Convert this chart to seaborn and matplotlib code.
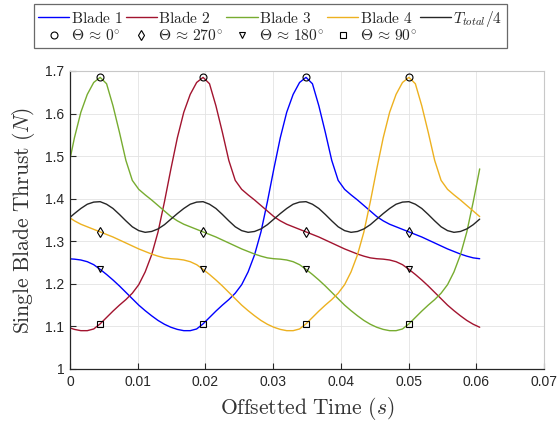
import numpy as np
import matplotlib
matplotlib.use("Agg")
import matplotlib.pyplot as plt
import seaborn as sns
from matplotlib.lines import Line2D

# sample times (s), uniform grid of the simulation output
time = np.linspace(-0.0003, 0.0605, 65)

blade_1 = [1.259, 1.258, 1.256, 1.252, 1.245, 1.234, 1.222, 1.209, 1.195, 1.180,
           1.165, 1.150, 1.137, 1.125, 1.114, 1.105, 1.098, 1.093, 1.090, 1.090,
           1.094, 1.106, 1.121, 1.136, 1.150, 1.163, 1.178, 1.198, 1.228, 1.268,
           1.322, 1.393, 1.470, 1.543, 1.603, 1.645, 1.673, 1.685, 1.670, 1.618,
           1.556, 1.490, 1.443, 1.422, 1.409, 1.397, 1.384, 1.371, 1.358, 1.348,
           1.340, 1.334, 1.328, 1.322, 1.316, 1.310, 1.303, 1.296, 1.289, 1.282,
           1.276, 1.270, 1.265, 1.261, 1.259]
blade_2 = [1.098, 1.093, 1.090, 1.090, 1.094, 1.106, 1.121, 1.136, 1.150, 1.163,
           1.178, 1.198, 1.228, 1.268, 1.322, 1.393, 1.470, 1.543, 1.603, 1.645,
           1.673, 1.685, 1.670, 1.618, 1.556, 1.490, 1.443, 1.422, 1.409, 1.397,
           1.384, 1.371, 1.358, 1.348, 1.340, 1.334, 1.328, 1.322, 1.316, 1.310,
           1.303, 1.296, 1.289, 1.282, 1.276, 1.270, 1.265, 1.261, 1.259, 1.258,
           1.256, 1.252, 1.245, 1.234, 1.222, 1.209, 1.195, 1.180, 1.165, 1.150,
           1.137, 1.125, 1.114, 1.105, 1.098]
blade_3 = [1.470, 1.543, 1.603, 1.645, 1.673, 1.685, 1.670, 1.618, 1.556, 1.490,
           1.443, 1.422, 1.409, 1.397, 1.384, 1.371, 1.358, 1.348, 1.340, 1.334,
           1.328, 1.322, 1.316, 1.310, 1.303, 1.296, 1.289, 1.282, 1.276, 1.270,
           1.265, 1.261, 1.259, 1.258, 1.256, 1.252, 1.245, 1.234, 1.222, 1.209,
           1.195, 1.180, 1.165, 1.150, 1.137, 1.125, 1.114, 1.105, 1.098, 1.093,
           1.090, 1.090, 1.094, 1.106, 1.121, 1.136, 1.150, 1.163, 1.178, 1.198,
           1.228, 1.268, 1.322, 1.393, 1.470]
blade_4 = [1.358, 1.348, 1.340, 1.334, 1.328, 1.322, 1.316, 1.310, 1.303, 1.296,
           1.289, 1.282, 1.276, 1.270, 1.265, 1.261, 1.259, 1.258, 1.256, 1.252,
           1.245, 1.234, 1.222, 1.209, 1.195, 1.180, 1.165, 1.150, 1.137, 1.125,
           1.114, 1.105, 1.098, 1.093, 1.090, 1.090, 1.094, 1.106, 1.121, 1.136,
           1.150, 1.163, 1.178, 1.198, 1.228, 1.268, 1.322, 1.393, 1.470, 1.543,
           1.603, 1.645, 1.673, 1.685, 1.670, 1.618, 1.556, 1.490, 1.443, 1.422,
           1.409, 1.397, 1.384, 1.371, 1.358]
total_quarter = [1.352, 1.365, 1.377, 1.387, 1.392, 1.393, 1.387, 1.377, 1.363, 1.348,
                 1.334, 1.325, 1.321, 1.323, 1.329, 1.339, 1.352, 1.365, 1.377, 1.387,
                 1.392, 1.393, 1.387, 1.377, 1.363, 1.348, 1.334, 1.325, 1.321, 1.323,
                 1.329, 1.339, 1.352, 1.365, 1.377, 1.387, 1.392, 1.393, 1.387, 1.377,
                 1.363, 1.348, 1.334, 1.325, 1.321, 1.323, 1.329, 1.339, 1.352, 1.365,
                 1.377, 1.387, 1.392, 1.393, 1.387, 1.377, 1.363, 1.348, 1.334, 1.325,
                 1.321, 1.323, 1.329, 1.339, 1.352]

blade_names = ["Blade 1", "Blade 2", "Blade 3", "Blade 4"]
blade_colors = ["#0000ff", "#a2142f", "#77ac30", "#edb120"]
# sample index where each blade passes Theta ~ 0
blade_peak_idx = [37, 21, 5, 53]

# marker per azimuth, offset in samples from the Theta ~ 0 point
azimuth_labels = [r"$\Theta\,\approx\,0^{\circ}$", r"$\Theta\,\approx\,270^{\circ}$",
                  r"$\Theta\,\approx\,180^{\circ}$", r"$\Theta\,\approx\,90^{\circ}$"]
azimuth_markers = ["o", "d", "v", "s"]
azimuth_offsets = [0, 16, 32, 48]

sns.set_style("ticks")
plt.rcParams["font.family"] = ["Liberation Sans", "DejaVu Sans"]
plt.rcParams["mathtext.fontset"] = "cm"

fig = plt.figure(figsize=(5.57, 4.23), dpi=100)
ax = fig.add_axes([0.1257, 0.1277, 0.851, 0.7045])

blades = [blade_1, blade_2, blade_3, blade_4]
for vals, color in zip(blades, blade_colors):
    sns.lineplot(x=time, y=vals, ax=ax, color=color, linewidth=1.0,
                 errorbar=None, legend=False)
sns.lineplot(x=time, y=total_quarter, ax=ax, color="#262626", linewidth=1.0,
             errorbar=None, legend=False)

for vals, p in zip(blades, blade_peak_idx):
    vals = np.asarray(vals)
    for m, off in zip(azimuth_markers, azimuth_offsets):
        k = (p + off) % 64
        ax.plot(time[k], vals[k], linestyle="none", marker=m, markersize=5,
                markerfacecolor="none", markeredgecolor="black",
                markeredgewidth=0.8, zorder=5)

ax.set_xlim(0, 0.07)
ax.set_ylim(1, 1.7)
xt = [0, 0.01, 0.02, 0.03, 0.04, 0.05, 0.06, 0.07]
yt = [1, 1.1, 1.2, 1.3, 1.4, 1.5, 1.6, 1.7]
ax.set_xticks(xt)
ax.set_xticklabels(["0", "0.01", "0.02", "0.03", "0.04", "0.05", "0.06", "0.07"])
ax.set_yticks(yt)
ax.set_yticklabels(["1", "1.1", "1.2", "1.3", "1.4", "1.5", "1.6", "1.7"])
ax.grid(True, color="#e3e3e3", linewidth=0.6)
ax.set_axisbelow(True)
ax.tick_params(direction="in", length=4, width=0.8, colors="#262626",
               labelsize=10, pad=4)
for side in ["left", "bottom"]:
    ax.spines[side].set_color("#262626")
    ax.spines[side].set_linewidth(0.9)
for side in ["top", "right"]:
    ax.spines[side].set_visible(True)
    ax.spines[side].set_color("#c8c8c8")
    ax.spines[side].set_linewidth(0.8)

ax.set_xlabel(r"$\mathrm{Offsetted\ Time}\ (s)$", fontsize=15.5, color="#333333",
              labelpad=5)
ax.set_ylabel(r"$\mathrm{Single\ Blade\ Thrust}\ (N)$", fontsize=15.5,
              color="#333333", labelpad=6)

line_handles = [Line2D([], [], color=c, linewidth=1.0) for c in blade_colors]
line_handles.append(Line2D([], [], color="#262626", linewidth=1.0))
line_labels = [r"$\mathrm{%s}$" % n.replace(" ", r"\ ") for n in blade_names]
line_labels.append(r"$T_{total}/4$")
mark_handles = [Line2D([], [], linestyle="none", marker=m, markersize=5,
                       markerfacecolor="none", markeredgecolor="black",
                       markeredgewidth=0.8) for m in azimuth_markers]

handles, labels = [], []
for i in range(5):
    handles.append(line_handles[i])
    labels.append(line_labels[i])
    if i < 4:
        handles.append(mark_handles[i])
        labels.append(azimuth_labels[i])

leg = fig.legend(handles, labels, ncol=5, loc="upper center",
                 bbox_to_anchor=(0.485, 0.99), frameon=True, fancybox=False,
                 edgecolor="#444444", fontsize=11.2, handlelength=2.0,
                 handletextpad=0.1, columnspacing=0.2, borderpad=0.3,
                 labelspacing=0.15, borderaxespad=0)
leg.get_frame().set_linewidth(0.9)

fig.savefig("out.png", dpi=100)
